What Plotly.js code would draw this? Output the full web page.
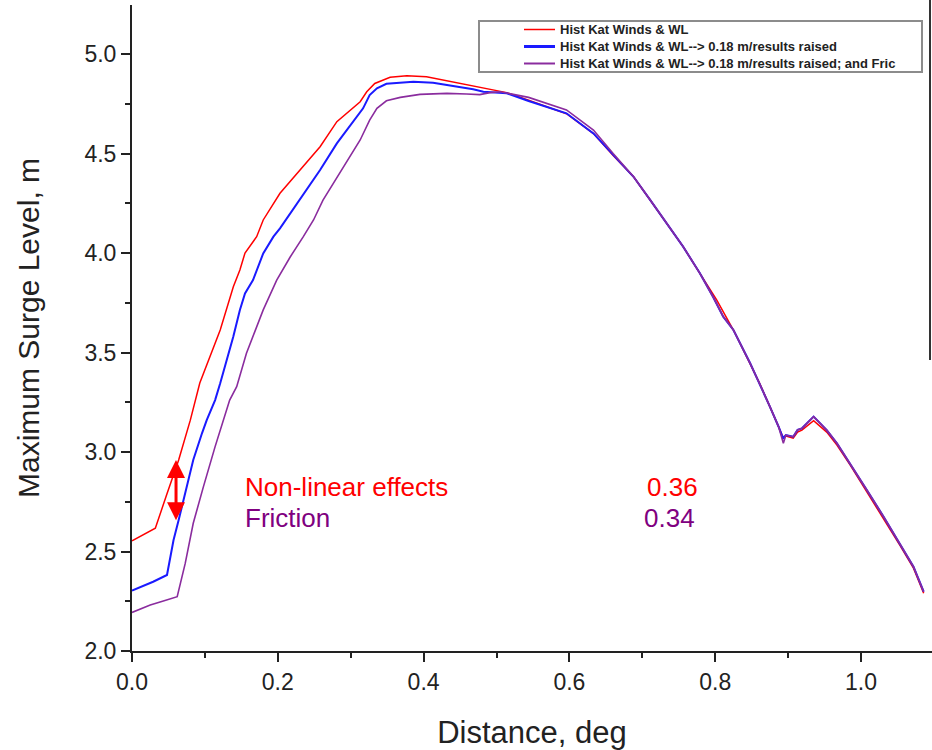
<!DOCTYPE html>
<html><head><meta charset="utf-8">
<script src="https://cdn.plot.ly/plotly-3.0.1.min.js"></script>
<style>html,body{margin:0;padding:0;background:#fff}#chart{width:932px;height:750px}</style>
</head><body><div id="chart"></div>
<script>
// ---- data ----
const seriesNames = [
  "Hist Kat Winds & WL",
  "Hist Kat Winds & WL--> 0.18 m/results raised",
  "Hist Kat Winds & WL--> 0.18 m/results raised; and Fric"
];
const redX = [0, 0.032, 0.048, 0.064, 0.080, 0.093, 0.121, 0.139, 0.148, 0.155, 0.171, 0.180, 0.203, 0.230, 0.258, 0.281, 0.313, 0.322, 0.333, 0.354, 0.377, 0.404, 0.432, 0.459, 0.487, 0.514, 0.543, 0.596, 0.633, 0.660, 0.688, 0.711, 0.733, 0.756, 0.779, 0.802, 0.825, 0.848, 0.861, 0.875, 0.887, 0.893, 0.897, 0.907, 0.913, 0.919, 0.935, 0.953, 0.967, 0.985, 1.008, 1.031, 1.053, 1.072, 1.086];
const redY = [2.554, 2.617, 2.79, 2.96, 3.16, 3.347, 3.613, 3.83, 3.915, 4.0, 4.082, 4.166, 4.30, 4.417, 4.534, 4.66, 4.76, 4.81, 4.852, 4.883, 4.891, 4.886, 4.866, 4.844, 4.823, 4.806, 4.769, 4.70, 4.60, 4.49, 4.383, 4.266, 4.149, 4.032, 3.898, 3.764, 3.613, 3.446, 3.345, 3.228, 3.127, 3.075, 3.08, 3.07, 3.10, 3.11, 3.157, 3.10, 3.035, 2.935, 2.80, 2.667, 2.533, 2.416, 2.29];
const blueX = [0, 0.029, 0.048, 0.057, 0.064, 0.073, 0.084, 0.096, 0.1025, 0.114, 0.121, 0.139, 0.148, 0.155, 0.166, 0.180, 0.194, 0.203, 0.230, 0.258, 0.281, 0.304, 0.317, 0.326, 0.336, 0.349, 0.386, 0.413, 0.441, 0.468, 0.482, 0.496, 0.514, 0.544, 0.596, 0.633, 0.660, 0.688, 0.711, 0.733, 0.756, 0.779, 0.797, 0.811, 0.825, 0.848, 0.861, 0.875, 0.887, 0.893, 0.897, 0.907, 0.913, 0.919, 0.935, 0.953, 0.967, 0.985, 1.008, 1.031, 1.053, 1.072, 1.086];
const blueY = [2.303, 2.348, 2.382, 2.558, 2.658, 2.79, 2.96, 3.094, 3.16, 3.261, 3.345, 3.58, 3.714, 3.797, 3.864, 3.998, 4.082, 4.124, 4.266, 4.417, 4.551, 4.66, 4.727, 4.794, 4.828, 4.85, 4.861, 4.856, 4.841, 4.823, 4.81, 4.806, 4.803, 4.764, 4.702, 4.601, 4.492, 4.383, 4.266, 4.149, 4.032, 3.898, 3.78, 3.68, 3.613, 3.446, 3.345, 3.228, 3.127, 3.069, 3.085, 3.077, 3.111, 3.119, 3.178, 3.11, 3.044, 2.943, 2.809, 2.675, 2.541, 2.424, 2.298];
const purpleX = [0, 0.025, 0.043, 0.062, 0.073, 0.084, 0.098, 0.114, 0.134, 0.1436, 0.157, 0.180, 0.1985, 0.217, 0.235, 0.249, 0.262, 0.285, 0.313, 0.326, 0.336, 0.349, 0.368, 0.395, 0.432, 0.459, 0.477, 0.491, 0.505, 0.523, 0.544, 0.596, 0.633, 0.660, 0.688, 0.711, 0.733, 0.756, 0.779, 0.797, 0.811, 0.825, 0.848, 0.861, 0.875, 0.887, 0.8935, 0.897, 0.907, 0.913, 0.919, 0.935, 0.953, 0.967, 0.985, 1.008, 1.031, 1.053, 1.072, 1.086];
const purpleY = [2.194, 2.231, 2.251, 2.273, 2.44, 2.642, 2.826, 3.027, 3.261, 3.328, 3.496, 3.714, 3.864, 3.98, 4.082, 4.166, 4.266, 4.40, 4.568, 4.668, 4.727, 4.765, 4.782, 4.797, 4.802, 4.799, 4.796, 4.806, 4.81, 4.797, 4.782, 4.719, 4.618, 4.50, 4.383, 4.266, 4.149, 4.032, 3.898, 3.78, 3.68, 3.613, 3.446, 3.345, 3.228, 3.127, 3.044, 3.085, 3.077, 3.111, 3.119, 3.178, 3.11, 3.044, 2.943, 2.809, 2.675, 2.541, 2.424, 2.298];
const noteLabels = ["Non-linear effects", "Friction"];
const noteValues = ["0.36", "0.34"];
const arrowRange = [2.96, 2.65];
const arrowAtX = 0.0604;
const xTickStep = 0.2, yTickStep = 0.5;

// ---- layout helpers (pixel -> data) ----
const W = 932, H = 750, L = 132, B = 99, T = 5;
const xMax = (W - L) / 729, yMax = 2 + (H - B - T) / 199;
const px = v => (v - L) / 729;
const py = v => 2 + (H - B - v) / 199;

const FONT = "Arial, 'Liberation Sans', Helvetica, sans-serif";
const RED = "#ff0000", BLUE = "#1a1aff", PURPLE = "#8a2c9e", TXTP = "#800080";

const traces = [
  {x: redX, y: redY, name: seriesNames[0], mode: "lines", line: {color: RED, width: 1.5}},
  {x: blueX, y: blueY, name: seriesNames[1], mode: "lines", line: {color: BLUE, width: 2}},
  {x: purpleX, y: purpleY, name: seriesNames[2], mode: "lines", line: {color: PURPLE, width: 1.6}}
];

// custom legend (box, samples, texts)
const legRows = [29.5, 46.5, 63.5];
const legColors = [RED, BLUE, PURPLE];
const legWidths = [1.5, 3, 2];
const shapes = [{
  type: "rect", xref: "x", yref: "y",
  x0: px(479), x1: px(922), y0: py(21), y1: py(72),
  line: {color: "#8c8c8c", width: 2}, fillcolor: "rgba(255,255,255,1)", layer: "above"
}, {
  // frame edge visible at the right border of the picture
  type: "line", xref: "paper", yref: "paper", x0: (930 - L) / (W - L), x1: (930 - L) / (W - L),
  y0: 1 + T / (H - B - T), y1: (H - B - 360) / (H - B - T),
  line: {color: "#333", width: 2}, layer: "above"
}];
const annotations = [];
legRows.forEach((r, i) => {
  shapes.push({type: "line", xref: "x", yref: "y", x0: px(524), x1: px(555), y0: py(r), y1: py(r),
    line: {color: legColors[i], width: legWidths[i]}, layer: "above"});
  annotations.push({xref: "x", yref: "y", x: px(558), y: py(r), xanchor: "left", yanchor: "middle",
    text: seriesNames[i], showarrow: false, font: {family: FONT, size: 13, color: "#222", weight: "bold"}});
});

// text notes
annotations.push(
  {xref: "x", yref: "y", x: px(243), y: py(487), xanchor: "left", yanchor: "middle", text: noteLabels[0], showarrow: false, font: {family: FONT, size: 26, color: "#ff0000"}},
  {xref: "x", yref: "y", x: px(700), y: py(487), xanchor: "right", yanchor: "middle", text: noteValues[0], showarrow: false, font: {family: FONT, size: 26, color: "#ff0000"}},
  {xref: "x", yref: "y", x: px(243), y: py(518), xanchor: "left", yanchor: "middle", text: noteLabels[1], showarrow: false, font: {family: FONT, size: 26, color: TXTP}},
  {xref: "x", yref: "y", x: px(697), y: py(518), xanchor: "right", yanchor: "middle", text: noteValues[1], showarrow: false, font: {family: FONT, size: 26, color: TXTP}},
  {xref: "x", yref: "y", axref: "x", ayref: "y", x: arrowAtX, y: arrowRange[0], ax: arrowAtX, ay: arrowRange[1],
   text: "", showarrow: true, arrowhead: 2, startarrowhead: 2, arrowside: "end+start",
   arrowcolor: RED, arrowwidth: 3, arrowsize: 1.2, startarrowsize: 1.2, standoff: 0, startstandoff: 0}
);

const axisCommon = {
  showgrid: false, zeroline: false, showline: true, linecolor: "#222", linewidth: 2,
  ticks: "outside", ticklen: 9, tickwidth: 2, tickcolor: "#222",
  tickfont: {family: FONT, size: 23, color: "#222"}, tickformat: ".1f"
};

const layout = {
  width: W, height: H,
  margin: {l: L, r: 0, t: T, b: B, pad: 0},
  paper_bgcolor: "#fff", plot_bgcolor: "#fff",
  showlegend: false,
  font: {family: FONT, color: "#222"},
  xaxis: Object.assign({}, axisCommon, {
    range: [0, xMax], tick0: 0, dtick: xTickStep,
    minor: {dtick: xTickStep / 2, ticks: "outside", ticklen: 5, tickwidth: 2, tickcolor: "#222", showgrid: false},
    title: {text: "Distance, deg", font: {family: FONT, size: 31, color: "#222"}, standoff: 29}
  }),
  yaxis: Object.assign({}, axisCommon, {
    range: [2, yMax], tick0: 2, dtick: yTickStep,
    minor: {dtick: yTickStep / 2, ticks: "outside", ticklen: 5, tickwidth: 2, tickcolor: "#222", showgrid: false},
    title: {text: "Maximum Surge Level, m", font: {family: FONT, size: 30, color: "#222"}, standoff: 36}
  }),
  shapes: shapes,
  annotations: annotations
};

Plotly.newPlot("chart", traces, layout, {staticPlot: true, displayModeBar: false});
</script></body></html>
